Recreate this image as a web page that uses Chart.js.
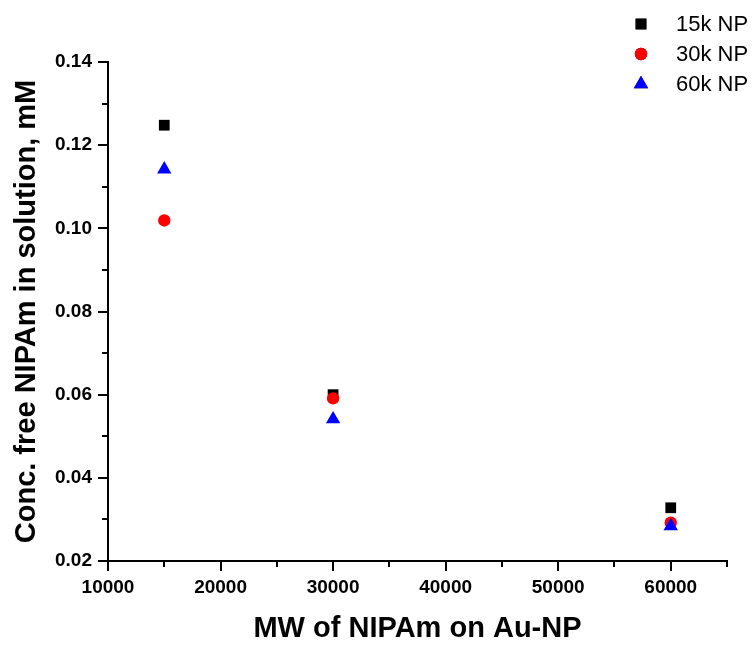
<!DOCTYPE html>
<html>
<head>
<meta charset="utf-8">
<title>Free NIPAm vs MW</title>
<script src="https://cdn.jsdelivr.net/npm/chart.js@4/dist/chart.umd.min.js"></script>
<style>
  html, body { margin: 0; padding: 0; background: #fff; }
  #wrap { width: 756px; height: 646px; }
</style>
</head>
<body>
<div id="wrap"><canvas id="chart" width="756" height="646"></canvas></div>
<script>
// Data
const mwValues = [15000, 30000, 60000];
const conc15k = [0.1248, 0.0600, 0.0328];
const conc30k = [0.1019, 0.0591, 0.0292];
const conc60k = [0.1142, 0.0541, 0.0284];
const seriesNames = ['15k NP', '30k NP', '60k NP'];

// Axis ticks
const xMajorTicks = [10000, 20000, 30000, 40000, 50000, 60000];
const yMajorTicks = [0.02, 0.04, 0.06, 0.08, 0.10, 0.12, 0.14];
const xMinorTicks = [15000, 25000, 35000, 45000, 55000, 65000];
const yMinorTicks = [0.03, 0.05, 0.07, 0.09, 0.11, 0.13];

const labelFont = 'Liberation Sans, Arial, sans-serif';

function toPoints(xs, ys) {
  return xs.map((x, i) => ({ x: x, y: ys[i] }));
}

// Minor tick marks (shorter, outward)
const minorTicksPlugin = {
  id: 'minorTicks',
  afterDraw(chart) {
    const ctx = chart.ctx;
    const xScale = chart.scales.x;
    const yScale = chart.scales.y;
    ctx.save();
    ctx.strokeStyle = '#000';
    ctx.lineWidth = 2;
    ctx.beginPath();
    xMinorTicks.forEach((v) => {
      const px = Math.round(xScale.getPixelForValue(v));
      ctx.moveTo(px, yScale.bottom);
      ctx.lineTo(px, yScale.bottom + 6);
    });
    yMinorTicks.forEach((v) => {
      const py = Math.round(yScale.getPixelForValue(v));
      ctx.moveTo(xScale.left, py);
      ctx.lineTo(xScale.left - 6, py);
    });
    ctx.stroke();
    ctx.restore();
  }
};

// Legend in the top right corner
const cornerLegendPlugin = {
  id: 'cornerLegend',
  afterDraw(chart) {
    const ctx = chart.ctx;
    const markX = 641;
    const textX = 676;
    const rowY = [24, 54, 84];
    ctx.save();
    chart.data.datasets.forEach((ds, i) => {
      const y = rowY[i];
      Chart.helpers.drawPoint(ctx, {
        pointStyle: ds.pointStyle,
        radius: ds.pointRadius,
        borderWidth: 0,
        rotation: 0
      }, markX, y);
      ctx.fillStyle = ds.backgroundColor;
      ctx.fill();
      ctx.fillStyle = '#000';
      ctx.font = '22px ' + labelFont;
      ctx.textBaseline = 'middle';
      ctx.textAlign = 'left';
      ctx.fillText(ds.label, textX, y + 1);
    });
    ctx.restore();
  }
};

function setTicks(values) {
  return (scale) => {
    scale.ticks = values.map((v) => ({ value: v }));
  };
}

const ctx = document.getElementById('chart').getContext('2d');
new Chart(ctx, {
  type: 'scatter',
  data: {
    datasets: [
      {
        label: seriesNames[0],
        data: toPoints(mwValues, conc15k),
        pointStyle: 'rect',
        pointRadius: 7.6,
        backgroundColor: '#000000',
        borderWidth: 0,
        order: 3
      },
      {
        label: seriesNames[1],
        data: toPoints(mwValues, conc30k),
        pointStyle: 'circle',
        pointRadius: 6.2,
        backgroundColor: '#ff0000',
        borderWidth: 0,
        order: 2
      },
      {
        label: seriesNames[2],
        data: toPoints(mwValues, conc60k),
        pointStyle: 'triangle',
        pointRadius: 8.3,
        backgroundColor: '#0000ff',
        borderWidth: 0,
        order: 1
      }
    ]
  },
  options: {
    responsive: false,
    animation: false,
    devicePixelRatio: 1,
    layout: { padding: { top: 62, right: 29, left: 0, bottom: 0 } },
    plugins: {
      legend: { display: false },
      tooltip: { enabled: false }
    },
    scales: {
      x: {
        type: 'linear',
        min: 10000,
        max: 65000,
        afterBuildTicks: setTicks(xMajorTicks),
        afterFit(scale) { scale.height = 85; },
        border: { display: true, color: '#000', width: 2 },
        grid: {
          drawOnChartArea: false,
          drawTicks: true,
          tickLength: 10,
          color: '#000',
          lineWidth: 2
        },
        ticks: {
          autoSkip: false,
          maxRotation: 0,
          padding: 5,
          color: '#000',
          font: { family: labelFont, size: 19, weight: 'bold' },
          callback: (v) => String(v)
        },
        title: {
          display: true,
          text: 'MW of NIPAm on Au-NP',
          color: '#000',
          padding: { top: 0, bottom: 0 },
          font: { family: labelFont, size: 29, weight: 'bold' }
        }
      },
      y: {
        type: 'linear',
        min: 0.02,
        max: 0.14,
        afterBuildTicks: setTicks(yMajorTicks),
        afterFit(scale) { scale.width = 108; },
        border: { display: true, color: '#000', width: 2 },
        grid: {
          drawOnChartArea: false,
          drawTicks: true,
          tickLength: 10,
          color: '#000',
          lineWidth: 2
        },
        ticks: {
          autoSkip: false,
          padding: 6,
          color: '#000',
          font: { family: labelFont, size: 19, weight: 'bold' },
          callback: (v) => Number(v).toFixed(2)
        },
        title: {
          display: true,
          text: 'Conc. free NIPAm in solution, mM',
          color: '#000',
          padding: { top: 10, bottom: 0 },
          font: { family: labelFont, size: 29, weight: 'bold' }
        }
      }
    }
  },
  plugins: [minorTicksPlugin, cornerLegendPlugin]
});
</script>
</body>
</html>
